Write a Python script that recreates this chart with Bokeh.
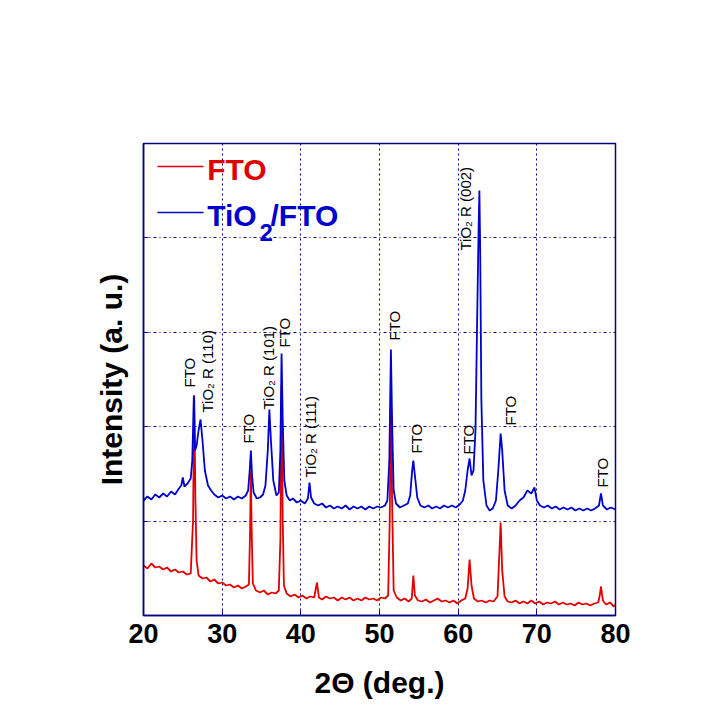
import math
from bokeh.plotting import figure
from bokeh.models import Range1d, FixedTicker, Label, Arrow
from bokeh.embed import file_html
from bokeh.resources import INLINE

# ---------------- data ----------------
two_theta_fto = [
    20.0, 20.5, 21.0, 21.5, 22.0, 22.5, 23.0, 23.5, 24.0, 24.5, 25.0, 25.5, 26.0,
    26.3, 26.45, 26.6, 26.75, 27.0, 27.5, 28.0, 28.5, 29.0, 29.5, 30.0, 30.5, 31.0,
    31.5, 32.0, 32.5, 33.0, 33.4, 33.55, 33.65, 33.75, 33.9, 34.3, 34.8, 35.3, 35.8,
    36.3, 36.8, 37.2, 37.4, 37.55, 37.7, 37.85, 38.2, 38.7, 39.2, 39.7, 40.2, 40.7,
    41.2, 41.7, 42.05, 42.3, 42.7, 43.2, 43.7, 44.2, 44.7, 45.2, 45.7, 46.2, 46.7,
    47.2, 47.7, 48.2, 48.7, 49.2, 49.7, 50.2, 50.7, 51.1, 51.3, 51.45, 51.6, 51.8,
    52.2, 52.7, 53.2, 53.7, 54.1, 54.3, 54.5, 54.9, 55.4, 55.9, 56.4, 56.9, 57.4,
    57.9, 58.4, 58.9, 59.4, 59.9, 60.4, 60.9, 61.2, 61.45, 61.7, 62.0, 62.5, 63.0,
    63.5, 64.0, 64.5, 65.0, 65.2, 65.4, 65.6, 65.9, 66.3, 66.8, 67.3, 67.8, 68.3,
    68.8, 69.3, 69.8, 70.3, 70.8, 71.3, 71.8, 72.3, 72.8, 73.3, 73.8, 74.3, 74.8,
    75.3, 75.8, 76.3, 76.8, 77.3, 77.8, 78.0, 78.15, 78.4, 78.8, 79.3, 79.8, 80.0,
]
intensity_fto = [
    500, 470, 520, 480, 490, 460, 480, 440, 460, 430, 440, 410, 420,
    950, 2200, 1150, 550, 400, 370, 380, 340, 360, 320, 330, 300, 310,
    280, 300, 270, 290, 310, 850, 1450, 850, 320, 250, 230, 250, 210,
    230, 220, 250, 750, 2300, 950, 300, 220, 190, 210, 180, 200, 170,
    190, 180, 330, 180, 160, 190, 170, 180, 150, 180, 160, 180, 150,
    170, 150, 180, 160, 170, 150, 180, 170, 200, 950, 2250, 1150, 250,
    180, 150, 170, 140, 170, 400, 200, 150, 140, 160, 130, 150, 170,
    140, 150, 130, 150, 120, 150, 170, 270, 560, 300, 170, 140, 150,
    130, 150, 140, 190, 550, 930, 450, 190, 140, 130, 150, 120, 140,
    120, 150, 120, 140, 110, 130, 120, 140, 110, 130, 110, 120, 100,
    130, 110, 120, 100, 120, 130, 200, 290, 150, 110, 130, 90, 110,
]

two_theta_tio2 = [
    20.0, 20.5, 21.0, 21.5, 22.0, 22.5, 23.0, 23.5, 24.0, 24.5, 24.8, 25.0, 25.2,
    25.6, 26.0, 26.2, 26.4, 26.55, 26.75, 27.0, 27.25, 27.5, 27.8, 28.2, 28.6, 29.0,
    29.5, 30.0, 30.5, 31.0, 31.5, 32.0, 32.5, 33.0, 33.3, 33.5, 33.65, 33.8, 34.0,
    34.4, 34.8, 35.2, 35.5, 35.8, 36.0, 36.2, 36.5, 36.9, 37.2, 37.4, 37.55, 37.7,
    37.9, 38.2, 38.6, 39.0, 39.5, 40.0, 40.5, 40.9, 41.1, 41.3, 41.7, 42.2, 42.7,
    43.2, 43.7, 44.2, 44.7, 45.2, 45.7, 46.2, 46.7, 47.2, 47.7, 48.2, 48.7, 49.2,
    49.7, 50.2, 50.7, 51.0, 51.25, 51.45, 51.6, 51.8, 52.1, 52.6, 53.1, 53.6, 53.9,
    54.15, 54.3, 54.5, 54.8, 55.2, 55.7, 56.2, 56.7, 57.2, 57.7, 58.2, 58.7, 59.2,
    59.7, 60.2, 60.6, 60.9, 61.2, 61.45, 61.7, 61.95, 62.2, 62.45, 62.6, 62.7, 62.8,
    62.95, 63.2, 63.6, 64.0, 64.4, 64.8, 65.1, 65.4, 65.6, 65.9, 66.3, 66.8, 67.3,
    67.8, 68.3, 68.8, 69.3, 69.7, 70.0, 70.4, 70.9, 71.4, 71.9, 72.4, 72.9, 73.4,
    73.9, 74.4, 74.9, 75.4, 75.9, 76.4, 76.9, 77.4, 77.9, 78.15, 78.4, 78.9, 79.4,
    80.0,
]
intensity_tio2 = [
    1150, 1190, 1160, 1210, 1180, 1220, 1190, 1240, 1210, 1270, 1300, 1380, 1290,
    1320, 1370, 1550, 2200, 1650, 1700, 1850, 1960, 1750, 1450, 1300, 1250, 1210,
    1180, 1200, 1170, 1190, 1160, 1190, 1170, 1200, 1250, 1450, 1650, 1400, 1230,
    1170, 1180, 1210, 1300, 1650, 2060, 1750, 1350, 1200, 1230, 1650, 2620, 1950,
    1350, 1200, 1150, 1170, 1130, 1150, 1120, 1170, 1330, 1180, 1120, 1100, 1120,
    1080, 1100, 1070, 1090, 1070, 1100, 1060, 1090, 1070, 1090, 1060, 1090, 1070,
    1090, 1080, 1100, 1150, 1550, 2660, 1950, 1250, 1120, 1080, 1100, 1120, 1200,
    1450, 1550, 1400, 1180, 1100, 1080, 1100, 1070, 1090, 1070, 1100, 1080, 1100,
    1080, 1110, 1150, 1250, 1450, 1570, 1400, 1450, 1850, 3150, 3880, 4250, 3650,
    2150, 1350, 1100, 1050, 1070, 1150, 1450, 1820, 1650, 1250, 1100, 1070, 1100,
    1150, 1180, 1250, 1220, 1280, 1150, 1100, 1080, 1100, 1070, 1090, 1060, 1080,
    1060, 1080, 1050, 1070, 1050, 1070, 1050, 1070, 1100, 1220, 1100, 1060, 1080,
    1060,
]

x_ticks = [20, 30, 40, 50, 60, 70, 80]
x_grid = [30, 40, 50, 60, 70]
y_grid = [944, 1888, 2832, 3776]
x_range = (20, 80)
y_range = (0, 4720)

series_names = ["FTO", "TiO", "2", "/FTO"]

# peak annotations: (text, 2theta, intensity where the rotated text starts)
peak_labels = [
    ("FTO", 25.85, 2280),
    ("TiO\u2082 R (110)", 28.1, 2030),
    ("FTO", 33.3, 1720),
    ("TiO\u2082 R (101)", 35.9, 2060),
    ("FTO", 37.9, 2680),
    ("TiO\u2082 R (111)", 41.2, 1380),
    ("FTO", 51.9, 2750),
    ("FTO", 54.7, 1620),
    ("FTO", 61.25, 1610),
    ("TiO\u2082 R (002)", 60.9, 3650),
    ("FTO", 66.65, 1900),
    ("FTO", 78.35, 1280),
]

RED = "#e00000"
BLUE = "#0000cc"
NAVY = "#000080"
FONT = "Liberation Sans"

p = figure(
    width=703, height=703,
    x_range=Range1d(*x_range), y_range=Range1d(*y_range),
    output_backend="svg", toolbar_location=None,
    min_border_left=143, min_border_right=88,
    min_border_top=143, min_border_bottom=88,
    background_fill_color="white", border_fill_color="white",
)
p.outline_line_color = NAVY
p.outline_line_width = 1.5

# axes
p.xaxis.ticker = FixedTicker(ticks=x_ticks)
p.xaxis.axis_label = "2\u0398 (deg.)"
p.yaxis.ticker = FixedTicker(ticks=y_grid)
p.yaxis.major_label_overrides = {t: "" for t in y_grid}
p.yaxis.axis_label = "Intensity (a. u.)"
for ax in (p.xaxis[0], p.yaxis[0]):
    ax.axis_line_color = NAVY
    ax.axis_line_width = 1.5
    ax.major_tick_line_color = NAVY
    ax.major_tick_in = 5
    ax.major_tick_out = 0
    ax.minor_tick_line_color = None
    ax.major_label_text_font = FONT
    ax.major_label_text_font_style = "bold"
    ax.major_label_text_color = "black"
    ax.axis_label_text_font = FONT
    ax.axis_label_text_font_style = "bold"
    ax.axis_label_text_color = "black"
    ax.axis_label_text_font_size = "30px"
p.xaxis.major_label_text_font_size = "27px"
p.xaxis.major_label_standoff = 8
p.xaxis.axis_label_standoff = 20
p.yaxis.axis_label_standoff = 16

# grids
p.xgrid.ticker = FixedTicker(ticks=x_grid)
p.ygrid.ticker = FixedTicker(ticks=y_grid)
p.xgrid.grid_line_color = NAVY
p.xgrid.grid_line_dash = "2 3"
p.ygrid.grid_line_color = NAVY
p.ygrid.grid_line_dash = "3 3 1 3"
p.xgrid.grid_line_width = 1
p.ygrid.grid_line_width = 1

# spectra
p.line(two_theta_fto, intensity_fto, line_color=RED, line_width=1.8)
p.line(two_theta_tio2, intensity_tio2, line_color=BLUE, line_width=1.8)

# peak labels
for txt, xx, yy in peak_labels:
    p.add_layout(Label(x=xx, y=yy, text=txt, angle=math.pi / 2,
                       text_align="left", text_baseline="middle",
                       text_font=FONT, text_font_size="15px",
                       text_color="black"))

# legend (drawn by hand to allow the subscript)
p.add_layout(Arrow(end=None, x_start=21.78, y_start=4490, x_end=27.63, y_end=4490,
                   line_color=RED, line_width=1.5))
p.add_layout(Arrow(end=None, x_start=21.78, y_start=4030, x_end=27.63, y_end=4030,
                   line_color=BLUE, line_width=1.5))
p.add_layout(Label(x=28.1, y=4460, text=series_names[0], text_baseline="middle",
                   text_font=FONT, text_font_style="bold", text_font_size="30px",
                   text_color=RED))
p.add_layout(Label(x=28.1, y=4000, text=series_names[1], text_baseline="middle",
                   text_font=FONT, text_font_style="bold", text_font_size="30px",
                   text_color=BLUE))
p.add_layout(Label(x=34.75, y=3830, text=series_names[2], text_baseline="middle",
                   text_font=FONT, text_font_style="bold", text_font_size="24px",
                   text_color=BLUE))
p.add_layout(Label(x=36.14, y=4000, text=series_names[3], text_baseline="middle",
                   text_font=FONT, text_font_style="bold", text_font_size="30px",
                   text_color=BLUE))

open("out.html", "w").write(file_html(p, INLINE))
